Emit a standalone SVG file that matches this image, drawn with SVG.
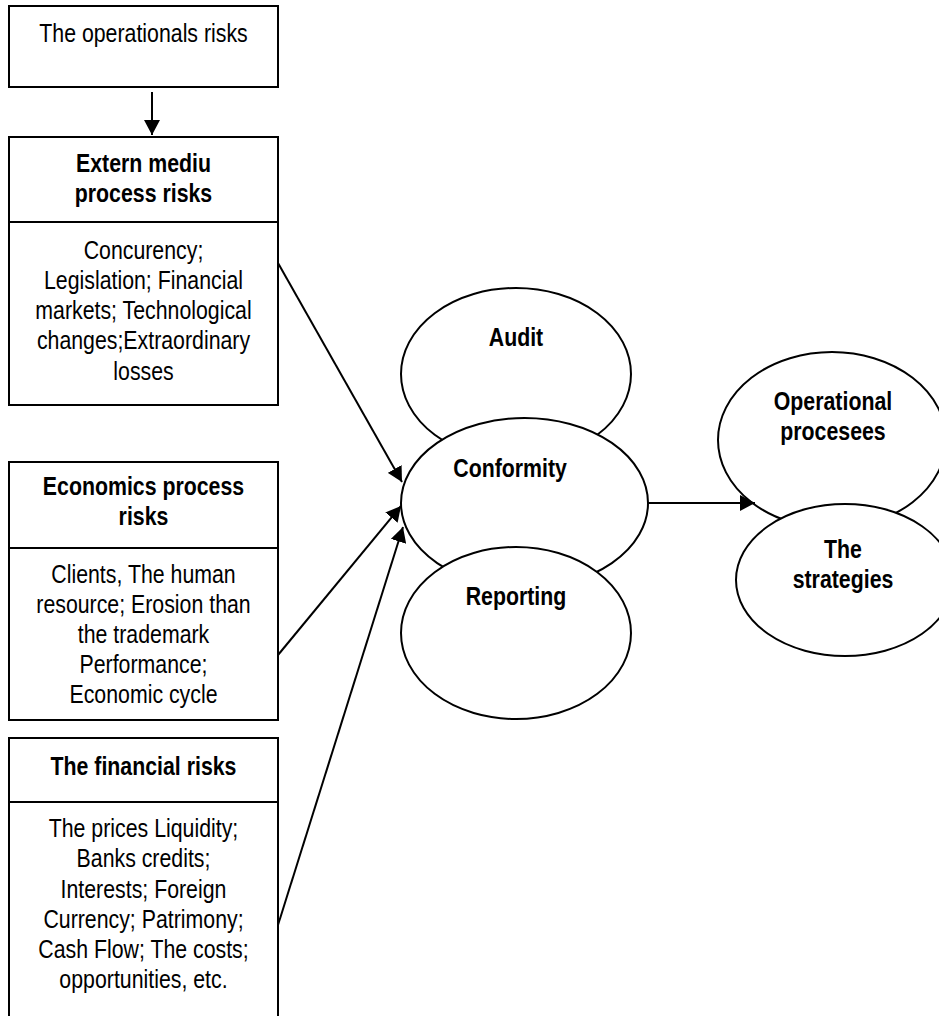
<svg xmlns="http://www.w3.org/2000/svg" width="939" height="1016" viewBox="0 0 939 1016">
<style>
.box{fill:#fff;stroke:#000;stroke-width:2}
.ell{fill:#fff;stroke:#000;stroke-width:2}
.conn{stroke:#000;stroke-width:2;fill:none}
text{font-family:"Liberation Sans",Arial,sans-serif;font-size:26px;fill:#000;text-anchor:middle;transform-box:fill-box;transform-origin:center;transform:scaleX(0.82)}
.b{font-weight:bold}
</style>
<defs>
<marker id="ah" markerWidth="15" markerHeight="16" refX="15" refY="8" orient="auto" markerUnits="userSpaceOnUse">
<path d="M0,0 L15,8 L0,16 Z" fill="#000"/>
</marker>
</defs>
<rect width="939" height="1016" fill="#fff"/>
<g id="op-risks">
<rect class="box" x="9" y="6" width="269" height="81"/>
<text x="143.5" y="42">The operationals risks</text>
</g>
<g id="extern">
<rect class="box" x="9" y="137" width="269" height="268"/>
<line class="conn" x1="9" y1="222" x2="278" y2="222"/>
<text class="b" x="143.5" y="172">Extern mediu</text>
<text class="b" x="143.5" y="202">process risks</text>
<text x="143.5" y="259">Concurency;</text>
<text x="143.5" y="289">Legislation; Financial</text>
<text x="143.5" y="319">markets; Technological</text>
<text x="143.5" y="349">changes;Extraordinary</text>
<text x="143.5" y="380">losses</text>
</g>
<g id="economics">
<rect class="box" x="9" y="462" width="269" height="258"/>
<line class="conn" x1="9" y1="548" x2="278" y2="548"/>
<text class="b" x="143.5" y="495">Economics process</text>
<text class="b" x="143.5" y="525">risks</text>
<text x="143.5" y="583">Clients, The human</text>
<text x="143.5" y="613">resource; Erosion than</text>
<text x="143.5" y="643">the trademark</text>
<text x="143.5" y="673">Performance;</text>
<text x="143.5" y="703">Economic cycle</text>
</g>
<g id="financial">
<rect class="box" x="9" y="738" width="269" height="290"/>
<line class="conn" x1="9" y1="802" x2="278" y2="802"/>
<text class="b" x="143.5" y="775">The financial risks</text>
<text x="143.5" y="837">The prices Liquidity;</text>
<text x="143.5" y="867">Banks credits;</text>
<text x="143.5" y="898">Interests; Foreign</text>
<text x="143.5" y="928">Currency; Patrimony;</text>
<text x="143.5" y="958">Cash Flow; The costs;</text>
<text x="143.5" y="988">opportunities, etc.</text>
</g>
<g id="audit">
<ellipse class="ell" cx="516" cy="374" rx="115" ry="86"/>
<text class="b" x="516" y="346">Audit</text>
</g>
<g id="conformity">
<ellipse class="ell" cx="524.5" cy="503" rx="123.5" ry="85"/>
<text class="b" x="510" y="477">Conformity</text>
</g>
<g id="reporting">
<ellipse class="ell" cx="516" cy="633" rx="115" ry="86"/>
<text class="b" x="516" y="605">Reporting</text>
</g>
<g id="operational">
<ellipse class="ell" cx="832" cy="440" rx="114" ry="88"/>
<text class="b" x="833" y="410">Operational</text>
<text class="b" x="833" y="440">procesees</text>
</g>
<g id="strategies">
<ellipse class="ell" cx="845" cy="580" rx="109" ry="76"/>
<text class="b" x="843" y="558">The</text>
<text class="b" x="843" y="588">strategies</text>
</g>
<g id="connectors">
<line class="conn" x1="152" y1="92" x2="152" y2="135" marker-end="url(#ah)"/>
<line class="conn" x1="278" y1="263" x2="402" y2="482" marker-end="url(#ah)"/>
<line class="conn" x1="278" y1="655" x2="401" y2="506" marker-end="url(#ah)"/>
<line class="conn" x1="278" y1="925" x2="403" y2="527" marker-end="url(#ah)"/>
<line class="conn" x1="648" y1="503" x2="755" y2="503" marker-end="url(#ah)"/>
</g>
</svg>
